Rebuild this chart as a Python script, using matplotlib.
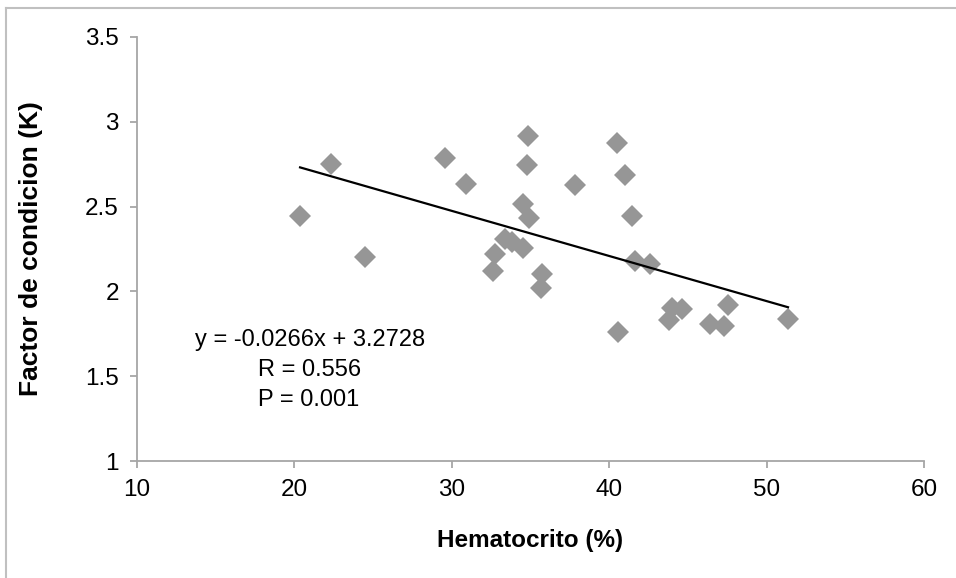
import matplotlib
matplotlib.use('Agg')
import matplotlib.pyplot as plt
from matplotlib.lines import Line2D
import numpy as np

plt.rcParams['font.family'] = ['Liberation Sans Narrow', 'Liberation Sans', 'DejaVu Sans']

# Hematocrito (%) vs factor de condicion (K)
hematocrito = [20.36, 22.33, 24.49, 29.57, 30.90, 32.62, 32.74, 33.40, 33.80, 34.52,
               34.52, 34.90, 34.78, 34.84, 35.67, 35.73, 37.83, 40.50, 40.56, 41.00,
               41.45, 41.64, 42.59, 43.80, 43.99, 44.63, 46.40, 47.30, 47.55, 51.36]
factor_k = [2.445, 2.751, 2.203, 2.787, 2.633, 2.120, 2.220, 2.310, 2.290, 2.256,
            2.515, 2.433, 2.745, 2.916, 2.020, 2.103, 2.627, 2.875, 1.760, 2.686,
            2.445, 2.180, 2.160, 1.830, 1.900, 1.896, 1.810, 1.796, 1.920, 1.837]

slope = -0.0266
intercept = 3.2728
eq_lines = ['y = -0.0266x + 3.2728', 'R = 0.556', 'P = 0.001']

x_ticks = [10, 20, 30, 40, 50, 60]
y_ticks = [1, 1.5, 2, 2.5, 3, 3.5]
y_tick_labels = ['1', '1.5', '2', '2.5', '3', '3.5']

fig = plt.figure(figsize=(9.56, 5.78), dpi=100)
ax = fig.add_axes([137 / 956, 1 - 461 / 578, 787 / 956, 424 / 578])

ax.plot(hematocrito, factor_k, linestyle='none', marker='D', markersize=11.5,
        color='#969696', markeredgewidth=0, zorder=2)

# linear trend over the data range
xl = np.array([min(hematocrito), max(hematocrito)])
ax.plot(xl, slope * xl + intercept, color='black', linewidth=1.6, zorder=3)

ax.text(13.68, 1.713, eq_lines[0], fontsize=17, va='center', ha='left')
ax.text(17.69, 1.537, eq_lines[1], fontsize=17, va='center', ha='left')
ax.text(17.69, 1.360, eq_lines[2], fontsize=17, va='center', ha='left')

ax.set_xlim(10, 60)
ax.set_ylim(1, 3.5)
ax.set_xticks(x_ticks)
ax.set_xticklabels([str(t) for t in x_ticks])
ax.set_yticks(y_ticks)
ax.set_yticklabels(y_tick_labels)

for side in ['top', 'right']:
    ax.spines[side].set_visible(False)
for side in ['left', 'bottom']:
    ax.spines[side].set_color('#a6a6a6')
    ax.spines[side].set_linewidth(1.3)

ax.tick_params(axis='both', direction='out', length=5, width=1.3,
               color='#a6a6a6', labelsize=17.5, pad=8)

ax.set_xlabel('Hematocrito (%)', fontsize=17.5, fontweight='bold')
ax.set_ylabel('Factor de condicion (K)', fontsize=19, fontweight='bold')
ax.xaxis.set_label_coords(0.5, -0.16)
ax.yaxis.set_label_coords(-0.12, 0.5)

# outer chart border (only top and left edges are visible in the crop)
fig.add_artist(Line2D([6 / 956, 6 / 956], [0, 1 - 8 / 578], transform=fig.transFigure,
                      color='#c0c0c0', linewidth=1.5))
fig.add_artist(Line2D([6 / 956, 1], [1 - 8 / 578, 1 - 8 / 578], transform=fig.transFigure,
                      color='#c0c0c0', linewidth=1.5))

fig.savefig('out.png', dpi=100)
plt.close(fig)
